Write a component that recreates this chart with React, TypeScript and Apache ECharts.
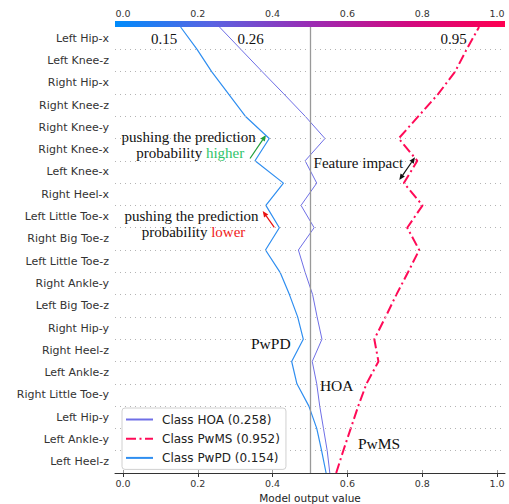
import { useEffect, useRef } from 'react';
import * as echarts from 'echarts';

// Feature rows, top to bottom as displayed
const features = [
  'Left Hip-x', 'Left Knee-z', 'Right Hip-x', 'Right Knee-z', 'Right Knee-y',
  'Right Knee-x', 'Left Knee-x', 'Right Heel-x', 'Left Little Toe-x', 'Right Big Toe-z',
  'Left Little Toe-z', 'Right Ankle-y', 'Left Big Toe-z', 'Right Hip-y', 'Right Heel-z',
  'Left Ankle-z', 'Right Little Toe-y', 'Left Hip-y', 'Left Ankle-y', 'Left Heel-z',
];

// Cumulative model output, from the base (index 0, bottom) up to the prediction (index 20, top)
const hoaPath = [
  0.553, 0.546, 0.536, 0.526, 0.518, 0.506, 0.532, 0.519, 0.507, 0.487, 0.469,
  0.511, 0.476, 0.518, 0.487, 0.540, 0.487, 0.430, 0.372, 0.315, 0.258,
];
const pwmsPath = [
  0.570, 0.589, 0.609, 0.629, 0.651, 0.683, 0.672, 0.702, 0.731, 0.762, 0.792,
  0.760, 0.801, 0.751, 0.787, 0.737, 0.790, 0.843, 0.888, 0.919, 0.952,
];
const pwpdPath = [
  0.543, 0.531, 0.518, 0.497, 0.465, 0.451, 0.482, 0.467, 0.445, 0.420, 0.381,
  0.418, 0.382, 0.429, 0.353, 0.391, 0.327, 0.282, 0.237, 0.198, 0.154,
];

const classNames = ['HOA', 'PwMS', 'PwPD'];
const classProbs = ['0.258', '0.952', '0.154'];
const xTicks = [0, 0.2, 0.4, 0.6, 0.8, 1.0];
const baseValue = 0.5;

const SERIF = 'Liberation Serif';
const SANS = 'DejaVu Sans';

function arrow(x1: number, y1: number, x2: number, y2: number, color: string, both = false) {
  const head = 6;
  const hw = 2.6;
  const dx = x2 - x1;
  const dy = y2 - y1;
  const L = Math.hypot(dx, dy);
  const ux = dx / L;
  const uy = dy / L;
  const nx = -uy;
  const ny = ux;
  const els: any[] = [];
  const bx2 = x2 - head * ux;
  const by2 = y2 - head * uy;
  els.push({
    type: 'polygon',
    shape: { points: [[x2, y2], [bx2 + hw * nx, by2 + hw * ny], [bx2 - hw * nx, by2 - hw * ny]] },
    style: { fill: color },
  });
  let sx = x1;
  let sy = y1;
  if (both) {
    const bx1 = x1 + head * ux;
    const by1 = y1 + head * uy;
    els.push({
      type: 'polygon',
      shape: { points: [[x1, y1], [bx1 + hw * nx, by1 + hw * ny], [bx1 - hw * nx, by1 - hw * ny]] },
      style: { fill: color },
    });
    sx = bx1;
    sy = by1;
  }
  els.push({
    type: 'line',
    shape: { x1: sx, y1: sy, x2: bx2, y2: by2 },
    style: { stroke: color, lineWidth: 1.2 },
  });
  return els;
}

function txt(x: number, y: number, text: string, size = 15, extra: any = {}) {
  return {
    type: 'text',
    x,
    y,
    z: 10,
    style: {
      text,
      fontFamily: SERIF,
      fontSize: size,
      fill: '#111',
      align: 'center',
      verticalAlign: 'middle',
      ...extra,
    },
  };
}

export default function App() {
  const ref = useRef<HTMLDivElement>(null);
  useEffect(() => {
    if (!ref.current) return;
    const chart = echarts.init(ref.current, null, { renderer: 'svg' });
    const colors = ['#6f6fe6', '#ff0a57', '#2f8ef0'];
    const paths = [hoaPath, pwmsPath, pwpdPath];
    const names = classNames.map((c, i) => `Class ${c} (${classProbs[i]})`);
    const lineStyles: any[] = [
      { color: colors[0], width: 1 },
      { color: colors[1], width: 2, type: [10, 3.5, 2, 3.5] },
      { color: colors[2], width: 1.2 },
    ];
    // horizontal dotted guides at every row boundary inside the plot
    const gridLevels = features.map((_, i) => i).filter((i) => i > 0);

    const series: any[] = [
      {
        name: 'guides',
        type: 'line',
        xAxisIndex: 0,
        yAxisIndex: 1,
        data: [],
        z: 1,
        silent: true,
        markLine: {
          silent: true,
          symbol: ['none', 'none'],
          label: { show: false },
          lineStyle: { color: '#b4b4b4', width: 1, type: [1, 4] },
          data: gridLevels.map((k) => ({ yAxis: k })),
        },
      },
      {
        name: 'base',
        type: 'line',
        xAxisIndex: 0,
        yAxisIndex: 1,
        data: [],
        z: 2,
        silent: true,
        markLine: {
          silent: true,
          symbol: ['none', 'none'],
          label: { show: false },
          lineStyle: { color: '#999999', width: 1.3, type: 'solid' },
          data: [{ xAxis: baseValue }],
        },
      },
      ...paths.map((p, i) => ({
        name: names[i],
        type: 'line',
        xAxisIndex: 0,
        yAxisIndex: 1,
        data: p.map((v, k) => [v, k]),
        symbol: 'none',
        showSymbol: false,
        z: 3,
        lineStyle: lineStyles[i],
        itemStyle: { color: colors[i] },
      })),
    ];

    const graphics: any[] = [
      {
        type: 'rect',
        shape: { x: 115, y: 21, width: 390, height: 6 },
        style: {
          fill: new echarts.graphic.LinearGradient(0, 0, 1, 0, [
            { offset: 0, color: '#008bfb' },
            { offset: 0.25, color: '#5a63e2' },
            { offset: 0.5, color: '#9a2cb4' },
            { offset: 0.75, color: '#d00a80' },
            { offset: 1, color: '#ff0051' },
          ]),
        },
        z: 5,
      },
      txt(164, 38.5, '0.15'),
      txt(250.5, 38.5, '0.26'),
      txt(453.7, 38.5, '0.95'),
      txt(188.7, 136.7, 'pushing the prediction'),
      txt(190.3, 153.3, 'probability {g|higher}', 15, {
        rich: { g: { fill: '#2fc46a', fontFamily: SERIF, fontSize: 15 } },
      }),
      txt(358.3, 163.3, 'Feature impact'),
      txt(191.5, 215.7, 'pushing the prediction'),
      txt(193.5, 232.3, 'probability {r|lower}', 15, {
        rich: { r: { fill: '#f01a1a', fontFamily: SERIF, fontSize: 15 } },
      }),
      txt(270.8, 343.3, 'PwPD', 15.5),
      txt(336.7, 385, 'HOA', 15.5),
      txt(379, 443.3, 'PwMS', 15.5),
      ...arrow(250, 158.5, 266, 135, '#1f9e3a'),
      ...arrow(274.3, 227.3, 262.7, 211, '#e81010'),
      ...arrow(399.3, 180, 415, 157.3, '#111', true),
    ];

    chart.setOption({
      animation: false,
      backgroundColor: '#fff',
      grid: {
        left: 115,
        right: 4,
        top: 27,
        bottom: 31,
        containLabel: false,
        outerBoundsMode: 'none',
      },
      legend: {
        data: names,
        orient: 'vertical',
        left: 122,
        top: 408,
        itemWidth: 27,
        itemHeight: 11,
        itemGap: 7.2,
        padding: [5.5, 6, 5.5, 3],
        backgroundColor: '#fff',
        borderColor: '#d0d0d0',
        borderWidth: 1,
        borderRadius: 3,
        itemStyle: { opacity: 0 },
        textStyle: {
          fontFamily: SANS,
          fontSize: 12,
          color: '#222',
          padding: [0, 0, 0, 4],
        },
        z: 8,
      },
      xAxis: [
        {
          type: 'value',
          position: 'bottom',
          min: -0.0214,
          max: 1.0214,
          splitLine: { show: false },
          axisLine: { show: true, onZero: false, lineStyle: { color: '#333', width: 1 } },
          axisTick: { show: true, customValues: xTicks, length: 4, lineStyle: { color: '#333' } },
          axisLabel: {
            customValues: xTicks,
            formatter: (v: number) => v.toFixed(1),
            color: '#333',
            fontSize: 9.5,
            fontFamily: SANS,
            margin: 5,
          },
          name: 'Model output value',
          nameLocation: 'middle',
          nameGap: 18,
          nameTextStyle: { color: '#222', fontSize: 10.5, fontFamily: SANS },
        },
        {
          type: 'value',
          position: 'top',
          offset: 6,
          min: -0.0214,
          max: 1.0214,
          splitLine: { show: false },
          axisLine: { show: false },
          axisTick: { show: true, customValues: xTicks, length: 3, lineStyle: { color: '#999' } },
          axisLabel: {
            customValues: xTicks,
            formatter: (v: number) => v.toFixed(1),
            color: '#333',
            fontSize: 9.5,
            fontFamily: SANS,
            margin: 3,
          },
        },
      ],
      yAxis: [
        {
          type: 'category',
          data: features,
          inverse: true,
          boundaryGap: true,
          axisLine: { show: false },
          axisTick: { show: false },
          splitLine: { show: false },
          axisLabel: {
            interval: 0,
            color: '#333',
            fontSize: 11,
            fontFamily: SANS,
            margin: 6,
          },
        },
        {
          type: 'value',
          min: 0,
          max: 20,
          interval: 1,
          axisLine: { show: false },
          axisTick: { show: false },
          axisLabel: { show: false },
          splitLine: { show: false },
        },
      ],
      series,
      graphic: graphics,
    });
    return () => chart.dispose();
  }, []);
  return (
    <div
      ref={ref}
      style={{ position: 'absolute', left: 0, top: 0, width: 509, height: 504 }}
    />
  );
}
